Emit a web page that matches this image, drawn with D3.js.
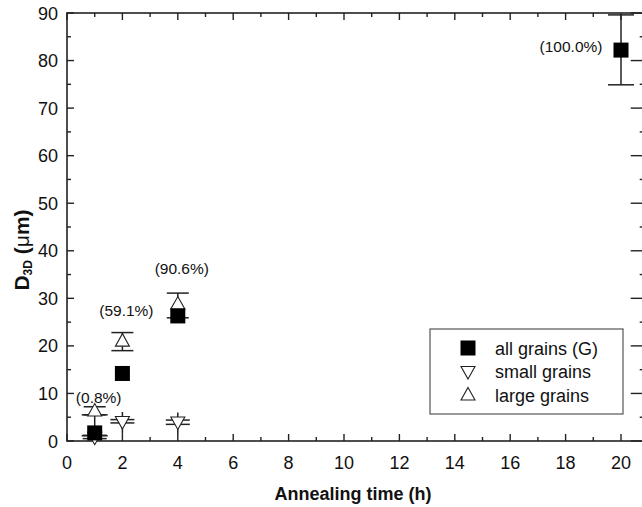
<!DOCTYPE html>
<html>
<head>
<meta charset="utf-8">
<script src="https://cdn.jsdelivr.net/npm/d3@7"></script>
<style>
  body { margin: 0; background: #fff; }
  text { font-family: "Liberation Sans", Arial, sans-serif; fill: #111; }
</style>
</head>
<body>
<svg id="chart" width="642" height="507"></svg>
<script>
// annealing times (h)
var times = [1, 2, 4, 20];

// all grains (G)
var allVal = [1.7, 14.2, 26.3, 82.2];
var allLo  = [1.1, null, null, 74.9];
var allHi  = [5.5, null, null, 89.6];

// small grains
var smallVal = [0.8, 4.1, 4.0];
var smallLo  = [0.5, 3.8, 3.5];
var smallHi  = [1.2, 4.5, 4.4];
var smallWLo = [null, 1.5, 1.4];
var smallWHi = [null, 6.1, 6.0];

// large grains
var largeVal = [6.3, 21.0, 28.8];
var largeLo  = [5.5, 19.0, 25.9];
var largeHi  = [7.2, 22.8, 31.1];

var pctLabels = ["(0.8%)", "(59.1%)", "(90.6%)", "(100.0%)"];
var xTicks = d3.range(0, 21, 2);
var yTicks = d3.range(0, 91, 10);
var legendNames = ["all grains (G)", "small grains", "large grains"];

var svg = d3.select("#chart");
var mLeft = 67, mRight = 648.7, mTop = 13, mBottom = 441;

var x = d3.scaleLinear().domain([0, 21]).range([mLeft, mRight]);
var y = d3.scaleLinear().domain([0, 90]).range([mBottom, mTop]);

var stroke = "#222";

// frame
svg.append("rect")
  .attr("x", mLeft).attr("y", mTop)
  .attr("width", mRight - mLeft).attr("height", mBottom - mTop)
  .attr("fill", "none").attr("stroke", stroke).attr("stroke-width", 1.6);

// ticks (inward)
var xMinor = d3.range(1, 21, 2);
var yMinor = d3.range(5, 90, 10);
function tickLines(g, data, fn) {
  g.selectAll(null).data(data).enter().append("line")
    .each(fn).attr("stroke", stroke).attr("stroke-width", 1.4);
}
var tk = svg.append("g");
tickLines(tk, xTicks, function (d) { d3.select(this).attr("x1", x(d)).attr("x2", x(d)).attr("y1", mBottom).attr("y2", mBottom - 7); });
tickLines(tk, xMinor, function (d) { d3.select(this).attr("x1", x(d)).attr("x2", x(d)).attr("y1", mBottom).attr("y2", mBottom - 4); });
tickLines(tk, xTicks, function (d) { d3.select(this).attr("x1", x(d)).attr("x2", x(d)).attr("y1", mTop).attr("y2", mTop + 7); });
tickLines(tk, xMinor, function (d) { d3.select(this).attr("x1", x(d)).attr("x2", x(d)).attr("y1", mTop).attr("y2", mTop + 4); });
tickLines(tk, yTicks, function (d) { d3.select(this).attr("x1", mLeft).attr("x2", mLeft + 7).attr("y1", y(d)).attr("y2", y(d)); });
tickLines(tk, yMinor, function (d) { d3.select(this).attr("x1", mLeft).attr("x2", mLeft + 4).attr("y1", y(d)).attr("y2", y(d)); });
tickLines(tk, yTicks, function (d) { d3.select(this).attr("x1", mRight).attr("x2", mRight - 18).attr("y1", y(d)).attr("y2", y(d)); });
tickLines(tk, yMinor, function (d) { d3.select(this).attr("x1", mRight).attr("x2", mRight - 9).attr("y1", y(d)).attr("y2", y(d)); });

// tick labels
svg.append("g").selectAll("text").data(xTicks).enter().append("text")
  .attr("x", function (d) { return x(d); }).attr("y", 469)
  .attr("text-anchor", "middle").attr("font-size", 18)
  .text(function (d) { return d; });
svg.append("g").selectAll("text").data(yTicks).enter().append("text")
  .attr("x", 58).attr("y", function (d) { return y(d) + 6.5; })
  .attr("text-anchor", "end").attr("font-size", 18)
  .text(function (d) { return d; });

// axis titles
svg.append("text").attr("x", 353).attr("y", 500)
  .attr("text-anchor", "middle").attr("font-size", 18).attr("font-weight", "bold")
  .text("Annealing time (h)");
var yt = svg.append("text").attr("transform", "translate(29,250) rotate(-90)")
  .attr("text-anchor", "middle").attr("font-size", 21).attr("font-weight", "bold");
yt.append("tspan").text("D");
yt.append("tspan").attr("font-size", 12).attr("dy", 3).text("3D");
yt.append("tspan").attr("dy", -3).text(" (");
yt.append("tspan").attr("font-weight", "normal").text("\u03bc");
yt.append("tspan").text("m)");

// error bars
function errBars(tArr, lo, hi, wlo, whi, capW) {
  var g = svg.append("g").attr("stroke", stroke).attr("stroke-width", 1.5);
  tArr.forEach(function (t, i) {
    if (lo[i] == null) return;
    var a = wlo && wlo[i] != null ? wlo[i] : lo[i];
    var b = whi && whi[i] != null ? whi[i] : hi[i];
    g.append("line").attr("x1", x(t)).attr("x2", x(t)).attr("y1", y(a)).attr("y2", y(b));
    [lo[i], hi[i]].forEach(function (v) {
      g.append("line").attr("x1", x(t) - capW / 2).attr("x2", x(t) + capW / 2)
        .attr("y1", y(v)).attr("y2", y(v));
    });
  });
}
errBars(times, allLo, allHi, null, null, 26);
errBars(times.slice(0, 3), smallLo, smallHi, smallWLo, smallWHi, 24);
errBars(times.slice(0, 3), largeLo, largeHi, null, null, 22);

// markers
var triUp = "M0,-7.5L7,5L-7,5Z";
var triDown = "M0,7.5L7,-5L-7,-5Z";

svg.append("g").selectAll("path").data(largeVal).enter().append("path")
  .attr("d", triUp)
  .attr("transform", function (d, i) { return "translate(" + x(times[i]) + "," + y(d) + ")"; })
  .attr("fill", "#fff").attr("stroke", stroke).attr("stroke-width", 1.1);
svg.append("g").selectAll("path").data(smallVal).enter().append("path")
  .attr("d", triDown)
  .attr("transform", function (d, i) { return "translate(" + x(times[i]) + "," + y(d) + ")"; })
  .attr("fill", "#fff").attr("stroke", stroke).attr("stroke-width", 1.1);
svg.append("g").selectAll("rect").data(allVal).enter().append("rect")
  .attr("x", function (d, i) { return x(times[i]) - 7.5; })
  .attr("y", function (d) { return y(d) - 7.5; })
  .attr("width", 15).attr("height", 15).attr("fill", "#000");

// percentage labels
var pctOff = [[4, -30], [4, -57], [4, -42], [-50, 2]];
svg.append("g").selectAll("text").data(pctLabels).enter().append("text")
  .attr("x", function (d, i) { return x(times[i]) + pctOff[i][0]; })
  .attr("y", function (d, i) { return y(allVal[i]) + pctOff[i][1]; })
  .attr("text-anchor", "middle").attr("font-size", 15.5)
  .text(function (d) { return d; });

// legend
var lg = svg.append("g").attr("transform", "translate(430,329)");
lg.append("rect").attr("width", 193).attr("height", 85)
  .attr("fill", "#fff").attr("stroke", "#555").attr("stroke-width", 1.2);
var rows = lg.selectAll("g").data(legendNames).enter().append("g")
  .attr("transform", function (d, i) { return "translate(38," + (19 + i * 23.5) + ")"; });
rows.each(function (d, i) {
  var r = d3.select(this);
  if (i === 0) r.append("rect").attr("x", -7.5).attr("y", -7.5).attr("width", 15).attr("height", 15).attr("fill", "#000");
  else r.append("path").attr("d", i === 1 ? triDown : triUp)
    .attr("fill", "#fff").attr("stroke", stroke).attr("stroke-width", 1.1);
});
rows.append("text").attr("x", 27).attr("y", 6.5).attr("font-size", 18)
  .text(function (d) { return d; });
</script>
</body>
</html>
